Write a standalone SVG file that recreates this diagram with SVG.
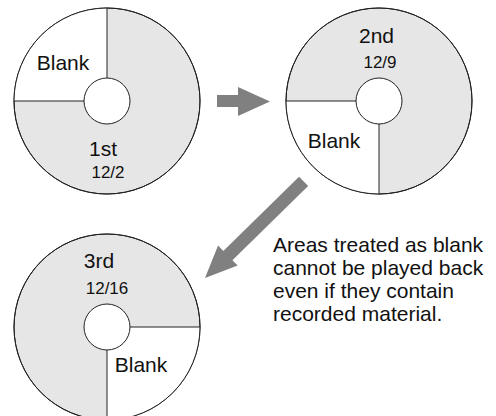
<svg xmlns="http://www.w3.org/2000/svg" width="496" height="416" viewBox="0 0 496 416">
<style>
.disc{fill:#e6e6e6;stroke:#222;stroke-width:1}
.blank{fill:#fff;stroke:none}
.ln{stroke:#222;stroke-width:1;fill:none}
.hole{fill:#fff;stroke:#222;stroke-width:1}
.lbl{font-family:"Liberation Sans",Arial,sans-serif;font-size:21px;fill:#111;text-anchor:middle}
.dt{font-family:"Liberation Sans",Arial,sans-serif;font-size:17px;fill:#111;text-anchor:middle}
.note{font-family:"Liberation Sans",Arial,sans-serif;font-size:21px;fill:#111}
.arr{fill:#808080;stroke:none}
</style>
<rect width="496" height="416" fill="#fff"/>
<g id="disc1">
<circle class="disc" cx="107" cy="101" r="93"/>
<path class="blank" d="M107,101 L14,101 A93,93 0 0 1 107,8 Z"/>
<circle class="disc" cx="107" cy="101" r="93" fill="none" style="fill:none"/>
<path class="ln" d="M107,78 L107,8 M84,101 L14,101"/>
<circle class="hole" cx="107" cy="101" r="23"/>
<text class="lbl" x="63" y="70">Blank</text>
<text class="lbl" x="103" y="156">1st</text>
<text class="dt" x="108" y="178">12/2</text>
</g>
<g id="disc2">
<circle class="disc" cx="379" cy="101" r="93"/>
<path class="blank" d="M379,101 L286,101 A93,93 0 0 0 379,194 Z"/>
<circle class="disc" cx="379" cy="101" r="93" style="fill:none"/>
<path class="ln" d="M286,101 L356,101 M379,124 L379,194"/>
<circle class="hole" cx="379" cy="101" r="23"/>
<text class="lbl" x="376.5" y="43">2nd</text>
<text class="dt" x="380" y="68">12/9</text>
<text class="lbl" x="334" y="148">Blank</text>
</g>
<g id="disc3">
<circle class="disc" cx="107" cy="327" r="93"/>
<path class="blank" d="M107,327 L200,327 A93,93 0 0 1 107,420 Z"/>
<circle class="disc" cx="107" cy="327" r="93" style="fill:none"/>
<path class="ln" d="M130,327 L200,327 M107,350 L107,420"/>
<circle class="hole" cx="107" cy="327" r="23"/>
<text class="lbl" x="99" y="268">3rd</text>
<text class="dt" x="107" y="294">12/16</text>
<text class="lbl" x="141" y="372">Blank</text>
</g>
<g id="connectors">
<polygon class="arr" points="217,95 238,95 238,87 270,101.5 238,116 238,107 217,107"/>
<polygon class="arr" transform="translate(205,278) rotate(-44.4)" points="0,0 32,-14 32,-6.5 138,-6.5 138,6.5 32,6.5 32,14"/>
</g>
<g id="note">
<text class="note" x="273" y="252">Areas treated as blank</text>
<text class="note" x="273" y="275">cannot be played back</text>
<text class="note" x="273" y="298">even if they contain</text>
<text class="note" x="273" y="321">recorded material.</text>
</g>
</svg>
